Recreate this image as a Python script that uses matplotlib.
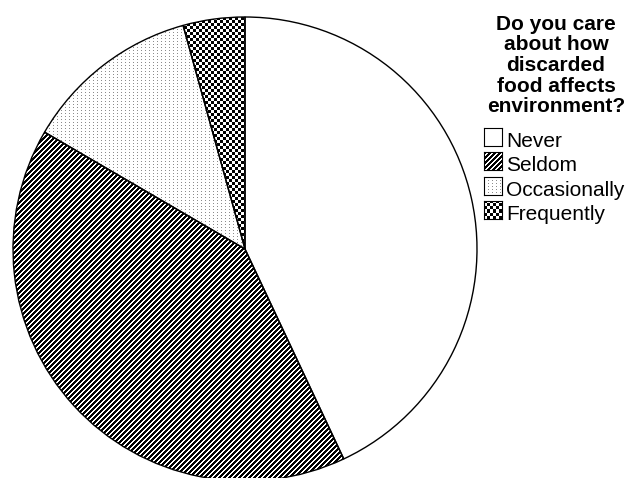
import numpy as np
import matplotlib.pyplot as plt
from matplotlib.patches import Rectangle

# values (share of answers, %)
labels = ["Never", "Seldom", "Occasionally", "Frequently"]
shares = [43.0, 40.4, 12.3, 4.3]
title_lines = ["Do you care", "about how", "discarded", "food affects", "environment?"]

W, H = 628, 478
plt.rcParams['font.family'] = ['Liberation Sans', 'DejaVu Sans']


def fx(x):
    return x / W


def fy(y):
    return 1 - y / H


def texture(kind, n):
    # bitmap fill patterns, 1 array cell = 1 screen pixel
    i, j = np.mgrid[0:n, 0:n]
    img = np.ones((n, n, 3))
    if kind == "stripes":
        mask = (i + j) % 5 < 3
        img[mask] = 0.0
    elif kind == "dots":
        mask = (i % 3 == 0) & (j % 4 == 0)
        img[mask] = 0.55
    elif kind == "checker":
        mask = ((i // 3) + (j // 3)) % 2 == 0
        img[mask] = 0.0
    return img


patterns = [None, "stripes", "dots", "checker"]

fig = plt.figure(figsize=(W / 100, H / 100), dpi=100)

# pie axes: square box of 464 px, circle centre at (245, 249)
R = 232
ax = fig.add_axes([fx(245 - R), fy(249 + R), 2 * R / W, 2 * R / H])
wedges, _ = ax.pie(shares, startangle=90, counterclock=False, radius=1,
                   wedgeprops=dict(facecolor="white", edgecolor="none", zorder=1))
for w, p in zip(wedges, patterns):
    if p is None:
        continue
    im = ax.imshow(texture(p, 2 * R), extent=[-1, 1, -1, 1], interpolation="nearest",
                   zorder=2)
    im.set_clip_path(w)
# outlines on top
ax.pie(shares, startangle=90, counterclock=False, radius=1,
       wedgeprops=dict(fill=False, edgecolor="black", linewidth=1.0, zorder=3))
ax.set_xlim(-1, 1)
ax.set_ylim(-1, 1)
ax.set_aspect("auto")
ax.axis("off")

# legend title
cx = 556
for k, line in enumerate(title_lines):
    fig.text(fx(cx), fy(30 + 20.5 * k), line, ha="center", va="baseline",
             fontsize=15, fontweight="bold")

# legend entries
box = 18
for k, (lab, p) in enumerate(zip(labels, patterns)):
    base = 147 + 24.3 * k
    bax = fig.add_axes([fx(484), fy(base - 1), box / W, box / H])
    if p is not None:
        bax.imshow(texture(p, box), extent=[0, 1, 0, 1], interpolation="nearest")
    bax.set_xlim(0, 1)
    bax.set_ylim(0, 1)
    bax.set_aspect("auto")
    bax.set_xticks([])
    bax.set_yticks([])
    for s in bax.spines.values():
        s.set_linewidth(0.8)
        s.set_color("black")
    fig.text(fx(506), fy(base), lab, ha="left", va="baseline", fontsize=15)

fig.savefig("out.png", dpi=100)
